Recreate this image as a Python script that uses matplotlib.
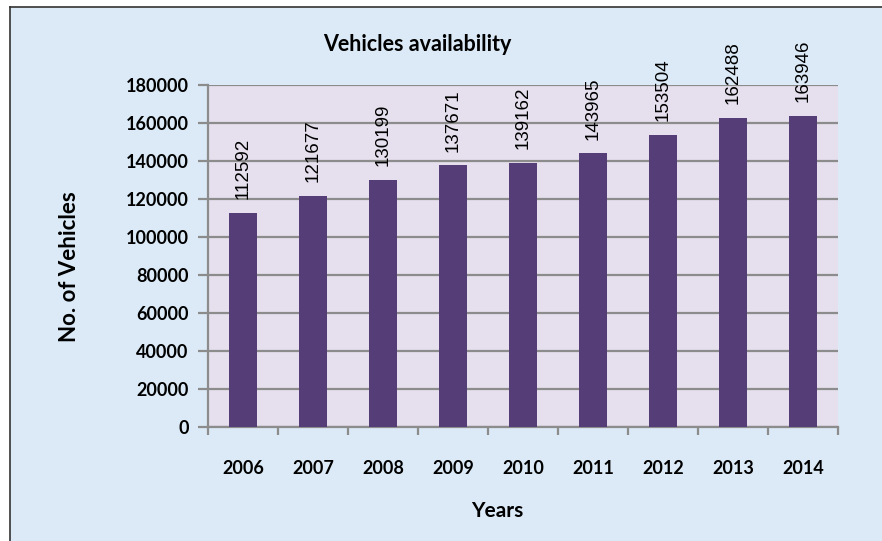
import matplotlib
matplotlib.use("Agg")
import matplotlib.pyplot as plt
from matplotlib.patches import Rectangle
from matplotlib.lines import Line2D
import numpy as np

years = ["2006", "2007", "2008", "2009", "2010", "2011", "2012", "2013", "2014"]
vehicles = [112592, 121677, 130199, 137671, 139162, 143965, 153504, 162488, 163946]
yticks = [0, 20000, 40000, 60000, 80000, 100000, 120000, 140000, 160000, 180000]

W, H = 882, 541
fig = plt.figure(figsize=(W / 100, H / 100), dpi=100)
fig.patch.set_facecolor("white")

# chart area background and border
bg = Rectangle((10 / W, 0), 1 - 10 / W, (H - 7) / H, transform=fig.transFigure,
               facecolor="#dbeaf6", edgecolor="none", zorder=-10)
fig.patches.append(bg)
fig.lines.append(Line2D([10 / W, 10 / W], [0, (H - 7) / H], transform=fig.transFigure,
                        color="#333333", lw=1.2))
fig.lines.append(Line2D([10 / W, 1], [(H - 7) / H, (H - 7) / H], transform=fig.transFigure,
                        color="#333333", lw=1.2))

ax = fig.add_axes([208 / W, (H - 427) / H, 630 / W, 342 / H])
ax.set_facecolor("#e6e0ee")

x = np.arange(len(years))
ax.bar(x, vehicles, width=0.4, color="#553d77", zorder=3)

ax.set_xlim(-0.5, len(years) - 0.5)
ax.set_ylim(0, 180000)
ax.set_yticks(yticks)
ax.set_yticklabels([str(v) for v in yticks], fontfamily="Lato", fontweight="bold", fontsize=13)
ax.yaxis.grid(True, color="#8c8c8c", lw=1.6, zorder=1)
ax.set_axisbelow(True)

ax.set_xticks(x)
ax.set_xticklabels(years, fontfamily="Lato", fontweight="bold", fontsize=13)
ax.tick_params(axis="x", which="major", length=0, pad=24)
ax.set_xticks(np.arange(len(years) + 1) - 0.5, minor=True)
ax.tick_params(axis="x", which="minor", length=6, width=1.6, color="#8c8c8c")
ax.tick_params(axis="y", length=7, width=1.6, color="#8c8c8c", pad=7)

for s in ["top", "right"]:
    ax.spines[s].set_visible(False)
for s in ["left", "bottom"]:
    ax.spines[s].set_color("#8c8c8c")
    ax.spines[s].set_linewidth(1.6)

for xi, v in zip(x, vehicles):
    ax.annotate(str(v), (xi, v), xytext=(0, 10), textcoords="offset points",
                rotation=90, ha="center", va="bottom", fontsize=13.5,
                fontfamily="Liberation Sans", color="black", annotation_clip=False)

fig.text(417 / W, 1 - 45 / H, "Vehicles availability", ha="center", va="center",
         fontfamily="Lato", fontweight="bold", fontsize=15.5)
fig.text(70 / W, 1 - 267 / H, "No. of Vehicles", ha="center", va="center", rotation=90,
         fontfamily="Lato", fontweight="bold", fontsize=16)
fig.text(497 / W, 1 - 511 / H, "Years", ha="center", va="center",
         fontfamily="Lato", fontweight="bold", fontsize=15)

fig.savefig("out.png", dpi=100)
